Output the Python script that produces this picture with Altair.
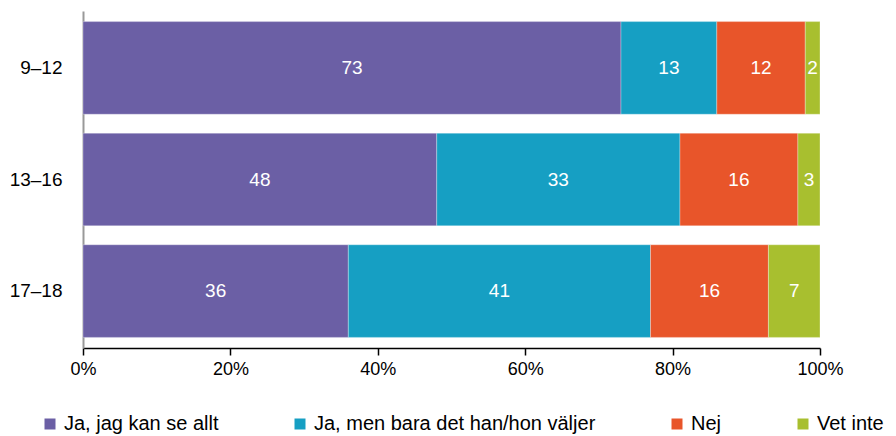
import altair as alt
import pandas as pd

groups = ["9–12", "13–16", "17–18"]
answers = ["Ja, jag kan se allt", "Ja, men bara det han/hon väljer", "Nej", "Vet inte"]
vals_all = [73, 48, 36]
vals_choose = [13, 33, 41]
vals_no = [12, 16, 16]
vals_dk = [2, 3, 7]
colors = ["#6B5FA5", "#169FC3", "#E8552A", "#A8BF2F"]

series = [vals_all, vals_choose, vals_no, vals_dk]
rows = []
for i, g in enumerate(groups):
    for j, a in enumerate(answers):
        rows.append({"group": g, "answer": a, "value": series[j][i], "order": j})
df = pd.DataFrame(rows)

FONT = "Liberation Sans, Arial, sans-serif"

base = alt.Chart(df).transform_stack(
    stack="value", groupby=["group"], as_=["x0", "x1"],
    offset="normalize", sort=[alt.SortField("order", order="ascending")]
).transform_calculate(mid="(datum.x0 + datum.x1) / 2")

yenc = alt.Y("group:N", sort=groups, title=None,
             scale=alt.Scale(paddingInner=0.17, paddingOuter=0.095),
             axis=alt.Axis(domainColor="#999999", domainWidth=2, ticks=False,
                           labelPadding=21, labelFontSize=19, labelColor="#000"))

bars = base.mark_bar(stroke="white", strokeWidth=0.6, strokeOpacity=0.5).encode(
    x=alt.X("x0:Q", title=None, scale=alt.Scale(domain=[0, 1], nice=False),
            axis=alt.Axis(format=".0%", values=[0, 0.2, 0.4, 0.6, 0.8, 1.0],
                          domainColor="#000", domainWidth=1.5, tickColor="#000",
                          tickWidth=1.5, tickSize=7, labelPadding=5, labelFlush=False,
                          labelFontSize=18, labelColor="#000", grid=False)),
    x2="x1:Q",
    y=yenc,
    color=alt.Color("answer:N", sort=answers,
                    scale=alt.Scale(domain=answers, range=colors),
                    legend=alt.Legend(title=None, orient="none", direction="horizontal",
                                      legendX=-43, legendY=403, symbolType="square",
                                      symbolSize=121, labelFontSize=20, labelColor="#000",
                                      columnPadding=71, labelOffset=4, labelLimit=500,
                                      symbolStrokeWidth=0)),
)

labels = base.mark_text(color="white", fontSize=19, font=FONT).encode(
    x=alt.X("mid:Q"),
    y=alt.Y("group:N", sort=groups),
    text=alt.Text("value:Q"),
)

chart = (bars + labels).properties(
    width=737, height=337,
    padding={"left": 75, "top": 3, "right": 68, "bottom": 88},
    autosize=alt.AutoSizeParams(type="none"),
).configure_view(stroke=None).configure_axis(
    labelFont=FONT
).configure_legend(labelFont=FONT)

chart.save("out.html", embed_options={"renderer": "svg", "actions": False})
